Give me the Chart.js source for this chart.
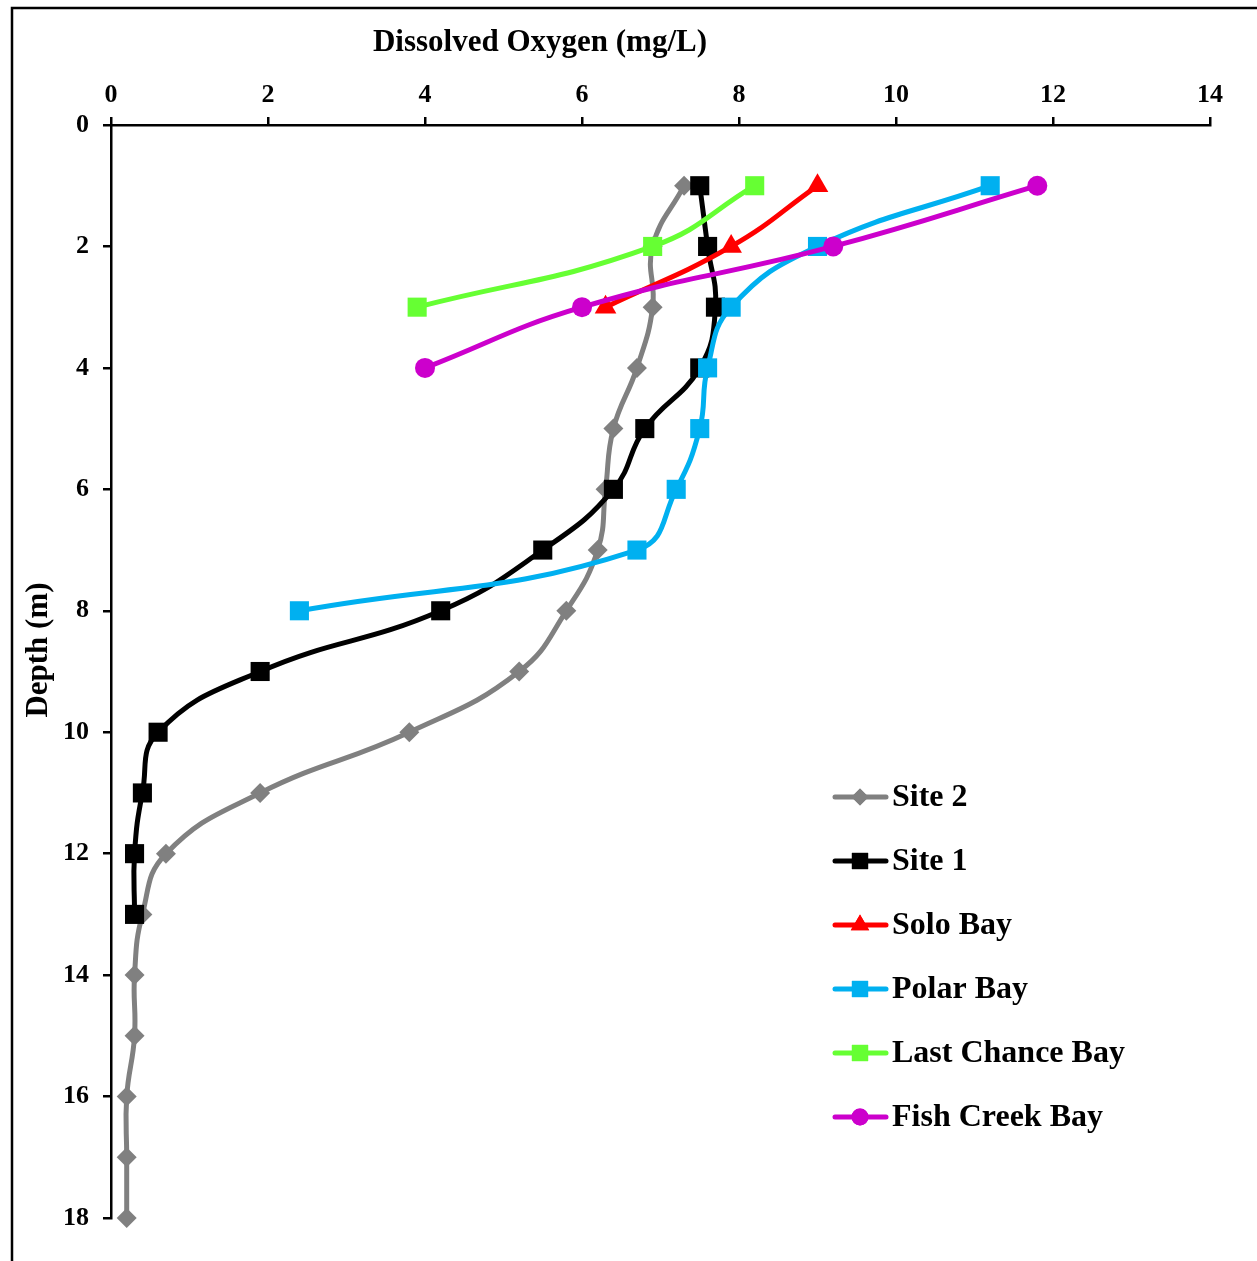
<!DOCTYPE html>
<html lang="en-US">
  <head>
    <meta charset="utf-8" />
    <title>Dissolved oxygen profiles</title>
    <script src="https://cdn.jsdelivr.net/npm/chart.js@4.4.0/dist/chart.umd.min.js"></script>
    <style>
      html, body { margin: 0; padding: 0; background: #fff; }
      #wrap { width: 1257px; height: 1261px; position: relative; }
    </style>
  </head>
  <body>
    <div id="wrap"><canvas id="chart" width="1257" height="1261"></canvas></div>
    <script>
      // depth (m) and dissolved oxygen (mg/L) per site
      const site2Depth = [1, 2, 3, 4, 5, 6, 7, 8, 9, 10, 11, 12, 13, 14, 15, 16, 17, 18];
      const site2DO = [7.3, 6.9, 6.9, 6.7, 6.4, 6.3, 6.2, 5.8, 5.2, 3.8, 1.9, 0.7, 0.4, 0.3, 0.3, 0.2, 0.2, 0.2];

      const site1Depth = [1, 2, 3, 4, 5, 6, 7, 8, 9, 10, 11, 12, 13];
      const site1DO = [7.5, 7.6, 7.7, 7.5, 6.8, 6.4, 5.5, 4.2, 1.9, 0.6, 0.4, 0.3, 0.3];

      const soloDepth = [1, 2, 3];
      const soloDO = [9.0, 7.9, 6.3];

      const polarDepth = [1, 2, 3, 4, 5, 6, 7, 8];
      const polarDO = [11.2, 9.0, 7.9, 7.6, 7.5, 7.2, 6.7, 2.4];

      const lastChanceDepth = [1, 2, 3];
      const lastChanceDO = [8.2, 6.9, 3.9];

      const fishCreekDepth = [1, 2, 3, 4];
      const fishCreekDO = [11.8, 9.2, 6.0, 4.0];

      const xTicks = [0, 2, 4, 6, 8, 10, 12, 14];
      const yTicks = [0, 2, 4, 6, 8, 10, 12, 14, 16, 18];

      const SERIF = "'Liberation Serif', 'Times New Roman', serif";

      function pts(xs, ys) {
        return xs.map((x, i) => ({ x: x, y: ys[i] }));
      }

      function series(label, xs, ys, color, style, radius, order) {
        return {
          label: label,
          data: pts(xs, ys),
          showLine: true,
          borderColor: color,
          backgroundColor: color,
          borderWidth: 5,
          tension: 0.45,
          pointStyle: style,
          pointRadius: radius,
          pointBorderWidth: 0,
          pointBackgroundColor: color,
          order: order,
          clip: false
        };
      }

      const datasets = [
        series("Site 2", site2DO, site2Depth, "#808080", "rectRot", 10, 5),
        series("Site 1", site1DO, site1Depth, "#000000", "rect", 13.5, 4),
        series("Solo Bay", soloDO, soloDepth, "#FF0000", "triangle", 12.5, 3),
        series("Polar Bay", polarDO, polarDepth, "#00B0F0", "rect", 13.5, 2),
        series("Last Chance Bay", lastChanceDO, lastChanceDepth, "#66FF33", "rect", 13.5, 1),
        series("Fish Creek Bay", fishCreekDO, fishCreekDepth, "#CC00CC", "circle", 10, 0)
      ];

      // frame, axis titles and the legend are drawn by hand
      const decorations = {
        id: "decorations",
        beforeDraw(chart) {
          const ctx = chart.ctx;
          ctx.save();
          ctx.fillStyle = "#fff";
          ctx.fillRect(0, 0, chart.width, chart.height);
          ctx.strokeStyle = "#000";
          ctx.lineWidth = 2.5;
          ctx.beginPath();
          ctx.moveTo(12, chart.height + 5);
          ctx.lineTo(12, 8);
          ctx.lineTo(chart.width + 5, 8);
          ctx.stroke();
          ctx.restore();
        },
        afterDraw(chart) {
          const ctx = chart.ctx;
          ctx.save();
          ctx.fillStyle = "#000";
          ctx.font = "bold 31px " + SERIF;
          ctx.textAlign = "center";
          ctx.textBaseline = "middle";
          ctx.fillText("Dissolved Oxygen (mg/L)", 540, 43);

          ctx.translate(39, 650);
          ctx.rotate(-Math.PI / 2);
          ctx.fillText("Depth (m)", 0, 0);
          ctx.restore();

          // legend
          ctx.save();
          let y = 797;
          datasets.forEach((ds) => {
            ctx.strokeStyle = ds.borderColor;
            ctx.lineWidth = 5;
            ctx.lineCap = "round";
            ctx.beginPath();
            ctx.moveTo(835, y);
            ctx.lineTo(886, y);
            ctx.stroke();
            ctx.fillStyle = ds.backgroundColor;
            Chart.helpers.drawPoint(ctx, {
              pointStyle: ds.pointStyle,
              radius: ds.pointRadius * 0.85,
              borderWidth: 0,
              rotation: 0
            }, 860, y);
            ctx.fill();
            ctx.fillStyle = "#000";
            ctx.font = "bold 32px " + SERIF;
            ctx.textAlign = "left";
            ctx.textBaseline = "middle";
            ctx.fillText(ds.label, 892, y + 1);
            y += 64;
          });
          ctx.restore();
        }
      };

      new Chart(document.getElementById("chart"), {
        type: "scatter",
        data: { datasets: datasets },
        plugins: [decorations],
        options: {
          responsive: false,
          animation: false,
          devicePixelRatio: 1,
          layout: { padding: { left: 0, top: 0, right: 47, bottom: 43 } },
          plugins: {
            legend: { display: false },
            tooltip: { enabled: false }
          },
          scales: {
            x: {
              type: "linear",
              position: "top",
              min: 0,
              max: 14,
              afterBuildTicks: (scale) => { scale.ticks = xTicks.map((v) => ({ value: v })); },
              afterFit: (scale) => { scale.height = 125; },
              border: { color: "#000", width: 2.5 },
              grid: { drawOnChartArea: false, tickLength: 8, color: "#000", lineWidth: 2.5 },
              ticks: {
                color: "#000",
                padding: 6,
                maxRotation: 0,
                font: { family: SERIF, size: 26, weight: "bold" }
              }
            },
            y: {
              type: "linear",
              position: "left",
              reverse: true,
              min: 0,
              max: 18,
              afterBuildTicks: (scale) => { scale.ticks = yTicks.map((v) => ({ value: v })); },
              afterFit: (scale) => { scale.width = 111; },
              border: { color: "#000", width: 2.5 },
              grid: { drawOnChartArea: false, tickLength: 8, color: "#000", lineWidth: 2.5 },
              ticks: {
                color: "#000",
                padding: 14,
                font: { family: SERIF, size: 26, weight: "bold" }
              }
            }
          }
        }
      });
    </script>
  </body>
</html>
